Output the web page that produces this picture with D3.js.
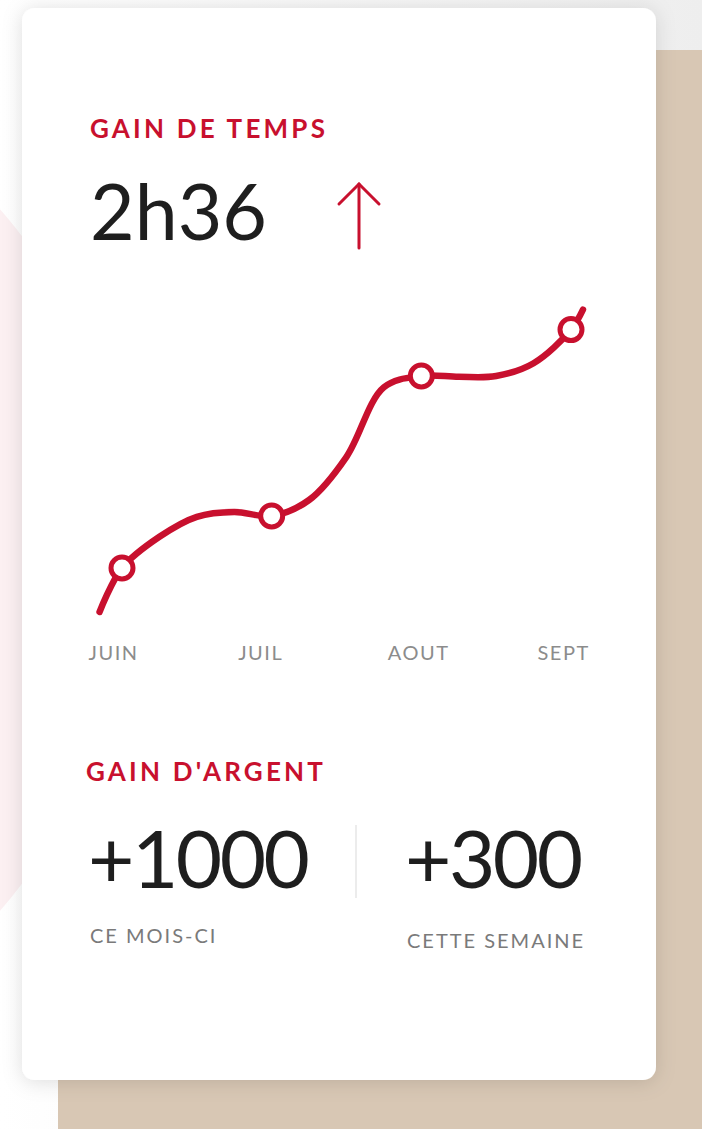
<!DOCTYPE html>
<html>
<head>
<meta charset="utf-8">
<script src="https://cdn.jsdelivr.net/npm/d3@7"></script>
<style>
  html, body { margin: 0; padding: 0; background: #f7f7f7; }
  svg { display: block; }
</style>
</head>
<body>
<script>
(function () {
  'use strict';

  // months shown under the curve
  const months = ['JUIN', 'JUIL', 'AOUT', 'SEPT'];
  // hours gained at each month (the circles)
  const monthlyHours = [0.65, 1.30, 3.05, 3.63];
  // the curve itself, read every quarter of a month (week), JUIN = 0
  const weekPos = [-0.15, 0, 0.25, 0.5, 0.75, 1, 1.25, 1.5, 1.75, 2, 2.25, 2.5, 2.75, 3, 3.08];
  const weeklyHours = [0.10, 0.65, 1.04, 1.29, 1.35, 1.30, 1.50, 2.04, 2.91, 3.05, 3.04, 3.05, 3.21, 3.63, 3.88];

  const title1 = 'GAIN DE TEMPS';
  const bigValue = '2h36';
  const title2 = "GAIN D'ARGENT";
  const moneyValues = ['+1000', '+300'];
  const moneyLabels = ['CE MOIS-CI', 'CETTE SEMAINE'];

  const red = '#c8102e';
  const font = 'Lato, sans-serif';
  const W = 702, H = 1129;

  const svg = d3.select('body')
    .append('svg')
    .attr('width', W)
    .attr('height', H);

  const defs = svg.append('defs');
  const sh = defs.append('filter').attr('id', 'shadow')
    .attr('x', '-20%').attr('y', '-20%').attr('width', '140%').attr('height', '140%');
  sh.append('feDropShadow')
    .attr('dx', 0).attr('dy', 2).attr('stdDeviation', 10)
    .attr('flood-color', '#000').attr('flood-opacity', 0.13);

  const bg = defs.append('linearGradient').attr('id', 'bg')
    .attr('x1', 0).attr('y1', 0).attr('x2', 1).attr('y2', 0);
  bg.append('stop').attr('offset', '0%').attr('stop-color', '#ffffff');
  bg.append('stop').attr('offset', '100%').attr('stop-color', '#eeeeee');

  // ===========================================================================
  // fond
  // ===========================================================================
  svg.append('rect')
    .attr('width', W).attr('height', H)
    .attr('fill', 'url(#bg)');

  svg.append('circle')
    .attr('cx', -400).attr('cy', 560).attr('r', 532)
    .attr('fill', '#fcf0f2');

  svg.append('rect')
    .attr('x', 58).attr('y', 50)
    .attr('width', 700).attr('height', 1120)
    .attr('rx', 12)
    .attr('fill', '#d8c7b4');

  svg.append('rect')
    .attr('x', 22).attr('y', 8)
    .attr('width', 634).attr('height', 1072)
    .attr('rx', 13)
    .attr('fill', '#fff')
    .attr('filter', 'url(#shadow)');

  // ===========================================================================
  // gain de temps
  // ===========================================================================
  svg.append('text')
    .attr('x', 90).attr('y', 138)
    .attr('font-family', font)
    .attr('font-weight', 700)
    .attr('font-size', 26)
    .attr('letter-spacing', 3.2)
    .attr('fill', red)
    .text(title1);

  svg.append('text')
    .attr('x', 90).attr('y', 240)
    .attr('font-family', font)
    .attr('font-size', 77)
    .attr('fill', '#1e1e1e')
    .text(bigValue);

  const arrow = svg.append('g')
    .attr('fill', 'none')
    .attr('stroke', red)
    .attr('stroke-width', 3)
    .attr('stroke-linecap', 'round');
  arrow.append('line').attr('x1', 359).attr('y1', 184).attr('x2', 359).attr('y2', 248);
  arrow.append('polyline').attr('points', '339,204 359,184 379,204');

  // ===========================================================================
  // courbe
  // ===========================================================================
  const xScale = d3.scaleLinear().domain([0, months.length - 1]).range([122, 571]);
  const yScale = d3.scaleLinear().domain([0, 4]).range([620, 300]);

  const pts = monthlyHours.map((v, i) => ({ pos: i, value: v }));
  const linePts = weeklyHours.map((v, i) => ({ pos: weekPos[i], value: v }));

  const line = d3.line()
    .x(d => xScale(d.pos))
    .y(d => yScale(d.value))
    .curve(d3.curveCatmullRom.alpha(0.5));

  svg.append('path')
    .datum(linePts)
    .attr('d', line)
    .attr('fill', 'none')
    .attr('stroke', red)
    .attr('stroke-width', 6.5)
    .attr('stroke-linecap', 'round');

  svg.append('g')
    .selectAll('circle')
    .data(pts)
    .enter()
    .append('circle')
    .attr('cx', d => xScale(d.pos))
    .attr('cy', d => yScale(d.value))
    .attr('r', 11)
    .attr('fill', '#fff')
    .attr('stroke', red)
    .attr('stroke-width', 5);

  const xAxis = d3.axisBottom(xScale)
    .tickValues(d3.range(months.length))
    .tickFormat(i => months[i])
    .tickSize(0)
    .tickPadding(0);

  const axisG = svg.append('g')
    .attr('transform', 'translate(-34,646)')
    .call(xAxis);
  axisG.select('.domain').remove();
  axisG.selectAll('text')
    .attr('text-anchor', 'start')
    .attr('font-family', font)
    .attr('font-size', 20)
    .attr('letter-spacing', 1.5)
    .attr('fill', '#8c8c8c');

  // ===========================================================================
  // gain d'argent
  // ===========================================================================
  svg.append('text')
    .attr('x', 86).attr('y', 781)
    .attr('font-family', font)
    .attr('font-weight', 700)
    .attr('font-size', 26)
    .attr('letter-spacing', 3.2)
    .attr('fill', red)
    .text(title2);

  const colX = [88, 405];
  const money = svg.append('g')
    .selectAll('g')
    .data(moneyValues)
    .enter()
    .append('g');

  money.append('text')
    .attr('x', (d, i) => colX[i])
    .attr('y', 888)
    .attr('font-family', font)
    .attr('font-size', 80)
    .attr('letter-spacing', -2.5)
    .attr('fill', '#1e1e1e')
    .text(d => d);

  money.append('text')
    .attr('x', (d, i) => colX[i] + 2)
    .attr('y', (d, i) => i === 0 ? 943 : 948)
    .attr('font-family', font)
    .attr('font-size', 20)
    .attr('letter-spacing', 2)
    .attr('fill', '#7a7a7a')
    .text((d, i) => moneyLabels[i]);

  svg.append('line')
    .attr('x1', 356).attr('y1', 825)
    .attr('x2', 356).attr('y2', 898)
    .attr('stroke', '#e6e6e6')
    .attr('stroke-width', 1.5);
})();
</script>
</body>
</html>
